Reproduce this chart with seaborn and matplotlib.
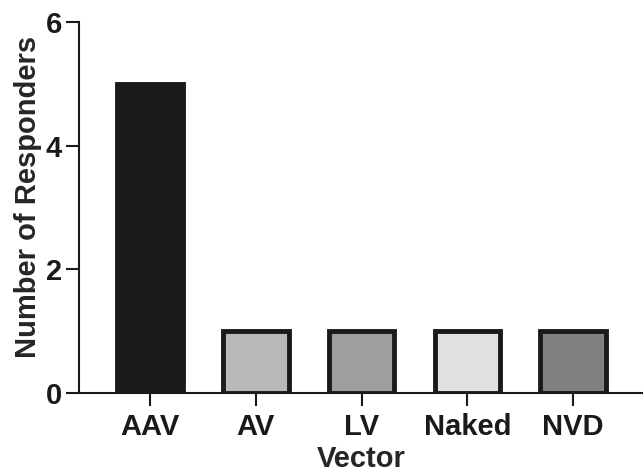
import matplotlib
matplotlib.use("Agg")
import matplotlib.pyplot as plt
import pandas as pd
import seaborn as sns

# data
vectors = ["AAV", "AV", "LV", "Naked", "NVD"]
responders = [5, 1, 1, 1, 1]
fill_colors = ["#1a1a1a", "#b8b8b8", "#9e9e9e", "#e0e0e0", "#808080"]
y_ticks = [0, 2, 4, 6]

sns.set_theme(style="ticks")
plt.rcParams["font.family"] = ["Liberation Sans", "DejaVu Sans"]
plt.rcParams["font.weight"] = "bold"

df = pd.DataFrame({"Vector": vectors, "Responders": responders})

fig = plt.figure(figsize=(6.43, 4.73), dpi=100)
ax = fig.add_axes([0.123, 0.169, 0.877, 0.785])

sns.barplot(
    data=df, x="Vector", y="Responders", hue="Vector",
    palette=fill_colors, legend=False, width=0.62,
    edgecolor="#1a1a1a", linewidth=3.5, saturation=1, ax=ax,
)

fs = 21
ax.set_ylim(0, 6)
ax.set_xlim(-0.67, 4.66)
ax.set_yticks(y_ticks)
ax.set_xlabel("Vector", fontsize=fs, fontweight="bold", labelpad=3)
ax.set_ylabel("Number of Responders", fontsize=fs, fontweight="bold")
ax.yaxis.set_label_coords(-0.066, 0.528)
ax.tick_params(axis="x", labelsize=fs, length=9.5, width=1.5, color="#1a1a1a",
               labelcolor="#1a1a1a", pad=5)
ax.tick_params(axis="y", labelsize=fs, length=9.5, width=1.5, color="#1a1a1a",
               labelcolor="#1a1a1a", pad=3)
for lab in ax.get_xticklabels() + ax.get_yticklabels():
    lab.set_fontweight("bold")

sns.despine(ax=ax)
for side in ("left", "bottom"):
    ax.spines[side].set_linewidth(1.5)
    ax.spines[side].set_color("#1a1a1a")

fig.savefig("out.png", dpi=100)
